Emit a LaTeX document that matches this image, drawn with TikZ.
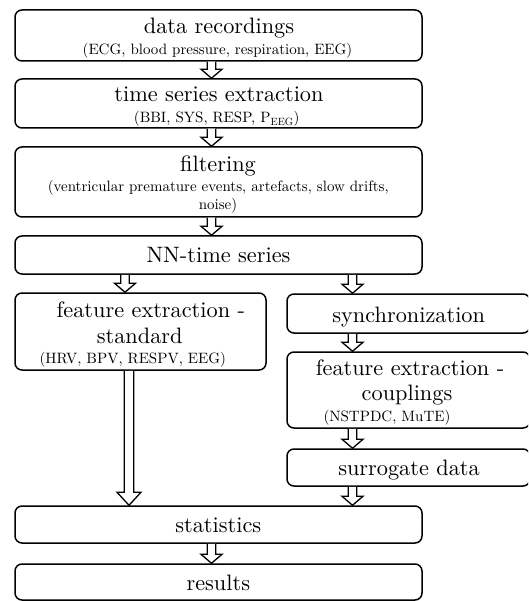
\documentclass[tikz,border=0pt]{standalone}
\usepackage{fontspec}
\setmainfont{lmroman10-regular}[Extension=.otf]
\usetikzlibrary{calc}
\newcommand\bigf{\fontsize{22.3}{26}\selectfont}
\newcommand\smf{\fontsize{15}{18}\selectfont}
\tikzset{
  box/.style={draw, line width=1.5pt, rounded corners=7pt, inner sep=0pt},
  big/.style={anchor=base, inner sep=0pt, font=\bigf},
  small/.style={anchor=base, inner sep=0pt, font=\smf},
  arrowline/.style={draw, line width=1.3pt, fill=white, line join=miter},
}
% #1 column coordinate, #2 start anchor, #3 end anchor, #4 half shaft, #5 half head, #6 head length
\newcommand\barrow[6]{%
  \draw[arrowline] let \p1=(#1), \p2=(#2), \p3=(#3) in
    (\x1-#4,\y2) -- (\x1-#4,\y3+#6) -- (\x1-#5,\y3+#6) -- (\x1,\y3) --
    (\x1+#5,\y3+#6) -- (\x1+#4,\y3+#6) -- (\x1+#4,\y2);%
}
\begin{document}
\begin{tikzpicture}[x=1pt,y=-1pt]
\useasboundingbox (0,0) rectangle (528,601);
\clip (0,0) rectangle (528,601);
\coordinate (cM) at (211.5,0);
\coordinate (cL) at (125,0);
\coordinate (cLL) at (129,0);
\coordinate (cR) at (352.5,0);

% boxes
\node[box, minimum width=407pt, minimum height=51pt] (rec) at (218.5,35.5) {};
\node[box, minimum width=407pt, minimum height=49pt] (tse) at (218.5,103.5) {};
\node[box, minimum width=407pt, minimum height=70pt] (fil) at (218.5,182) {};
\node[box, minimum width=407pt, minimum height=38pt] (nn) at (218.5,255) {};
\node[box, minimum width=251pt, minimum height=77pt] (fes) at (140.5,331.5) {};
\node[box, minimum width=243pt, minimum height=39pt] (syn) at (408.5,313.5) {};
\node[box, minimum width=243pt, minimum height=76pt] (fec) at (408.5,390) {};
\node[box, minimum width=243pt, minimum height=37pt] (sur) at (408.5,467.5) {};
\node[box, minimum width=407pt, minimum height=37pt] (sta) at (218.5,524.5) {};
\node[box, minimum width=407pt, minimum height=36pt] (res) at (218.5,582) {};

% texts
\node[big] (recA) at (219,33.3) {data recordings};
\node[small] (recB) at (217.5,54.5) {(ECG, blood pressure, respiration, EEG)};
\node[big] (tseA) at (219,101.7) {time series extraction};
\node[small] (tseB) at (216.7,122.7) {(BBI, SYS, RESP, P\textsubscript{EEG})};
\node[big] (filA) at (218,171.7) {filtering};
\node[small] (filB) at (218.3,191.7) {(ventricular premature events, artefacts, slow drifts,};
\node[small] (filC) at (218,209.3) {noise)};
\node[big] (nnA) at (218.5,262.7) {NN-time series};
\node[big] (fesA) at (150.8,317.3) {feature extraction -};
\node[big] (fesB) at (139.7,343.3) {standard};
\node[small] (fesC) at (132.8,363.3) {(HRV, BPV, RESPV, EEG)};
\node[big] (synA) at (408.7,322.7) {synchronization};
\node[big] (fecA) at (410,375) {feature extraction -};
\node[big] (fecB) at (407,400) {couplings};
\node[small] (fecC) at (387,421.7) {(NSTPDC, MuTE)};
\node[big] (surA) at (409,475) {surrogate data};
\node[big] (staA) at (218.3,532.7) {statistics};
\node[big] (resA) at (218.3,590.7) {results};

% block arrows
\barrow{cM}{rec.south}{tse.north}{4.3pt}{10.5pt}{9pt}
\barrow{cM}{tse.south}{fil.north}{4.3pt}{10.5pt}{9pt}
\barrow{cM}{fil.south}{nn.north}{4.3pt}{10.5pt}{9pt}
\barrow{cL}{nn.south}{fes.north}{4.3pt}{10.5pt}{9pt}
\barrow{cR}{nn.south}{syn.north}{4.3pt}{10.5pt}{9pt}
\barrow{cR}{syn.south}{fec.north}{4.3pt}{10.5pt}{9pt}
\barrow{cR}{fec.south}{sur.north}{4.3pt}{10.5pt}{9pt}
\barrow{cR}{sur.south}{sta.north}{4.3pt}{10.5pt}{9pt}
\barrow{cLL}{fes.south}{sta.north}{4.8pt}{12pt}{13pt}
\barrow{cM}{sta.south}{res.north}{4.3pt}{10.5pt}{9pt}
\end{tikzpicture}
\end{document}
